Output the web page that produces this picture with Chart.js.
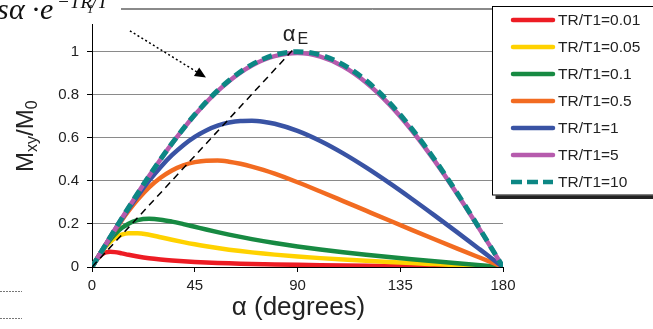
<!DOCTYPE html>
<html>
<head>
<meta charset="utf-8">
<script src="https://cdn.jsdelivr.net/npm/chart.js@4.4.1/dist/chart.umd.min.js"></script>
<style>
  html, body { margin: 0; padding: 0; background: #fff; }
  #wrap { width: 653px; height: 329px; position: relative; }
</style>
</head>
<body>
<div id="wrap"><canvas id="ernst" width="653" height="329"></canvas></div>
<script>
// flip angle (degrees) and Mxy/M0
const alphaDeg = [0, 2, 4, 6, 8, 10, 13, 16, 20, 25, 30, 35, 40, 45, 50, 55, 60, 65, 70, 75, 80, 90, 100, 110, 120, 130, 140, 150, 160, 170, 180];

const trT1_001 = [0, 0.0329, 0.0562, 0.0676, 0.0707, 0.0691, 0.0634, 0.0568, 0.0489, 0.0409, 0.0349, 0.0302, 0.0265, 0.0235, 0.0210, 0.0189, 0.0171, 0.0155, 0.0141, 0.0129, 0.0118, 0.0100, 0.0084, 0.0070, 0.0058, 0.0047, 0.0036, 0.0027, 0.0018, 0.0009, 0];
const trT1_005 = [0, 0.0345, 0.0666, 0.0944, 0.1170, 0.1339, 0.1500, 0.1570, 0.1571, 0.1495, 0.1384, 0.1267, 0.1155, 0.1053, 0.0962, 0.0879, 0.0805, 0.0739, 0.0679, 0.0625, 0.0575, 0.0488, 0.0412, 0.0346, 0.0286, 0.0232, 0.0181, 0.0134, 0.0088, 0.0044, 0];
const trT1_01 = [0, 0.0347, 0.0682, 0.0993, 0.1274, 0.1517, 0.1809, 0.2014, 0.2174, 0.2235, 0.2199, 0.2109, 0.1993, 0.1868, 0.1742, 0.1621, 0.1505, 0.1397, 0.1295, 0.1200, 0.1112, 0.0952, 0.0810, 0.0683, 0.0567, 0.0461, 0.0361, 0.0267, 0.0176, 0.0087, 0];
const trT1_05 = [0, 0.0349, 0.0695, 0.1036, 0.1371, 0.1696, 0.2165, 0.2601, 0.3129, 0.3693, 0.4144, 0.4486, 0.4724, 0.4872, 0.4940, 0.4943, 0.4891, 0.4795, 0.4665, 0.4508, 0.4331, 0.3935, 0.3506, 0.3062, 0.2615, 0.2169, 0.1727, 0.1290, 0.0857, 0.0428, 0];
const trT1_1 = [0, 0.0349, 0.0697, 0.1042, 0.1384, 0.1721, 0.2217, 0.2695, 0.3304, 0.4007, 0.4638, 0.5190, 0.5658, 0.6041, 0.6342, 0.6563, 0.6708, 0.6784, 0.6795, 0.6748, 0.6650, 0.6321, 0.5851, 0.5276, 0.4624, 0.3916, 0.3170, 0.2397, 0.1607, 0.0806, 0];
const trT1_5 = [0, 0.0349, 0.0698, 0.1045, 0.1392, 0.1736, 0.2250, 0.2755, 0.3418, 0.4223, 0.4995, 0.5729, 0.6418, 0.7057, 0.7642, 0.8168, 0.8631, 0.9028, 0.9355, 0.9611, 0.9793, 0.9933, 0.9770, 0.9312, 0.8573, 0.7576, 0.6352, 0.4938, 0.3376, 0.1713, 0];
const trT1_10 = [0, 0.0349, 0.0698, 0.1045, 0.1392, 0.1736, 0.2250, 0.2756, 0.3420, 0.4226, 0.5000, 0.5736, 0.6428, 0.7071, 0.7660, 0.8192, 0.8660, 0.9063, 0.9397, 0.9659, 0.9848, 1.0000, 0.9848, 0.9397, 0.8660, 0.7660, 0.6428, 0.5000, 0.3420, 0.1736, 0];

const seriesLabels = ['TR/T1=0.01', 'TR/T1=0.05', 'TR/T1=0.1', 'TR/T1=0.5', 'TR/T1=1', 'TR/T1=5', 'TR/T1=10'];
const seriesValues = [trT1_001, trT1_005, trT1_01, trT1_05, trT1_1, trT1_5, trT1_10];

// dashed guide through the Ernst angle
const ernstAlpha = [0, 89];
const ernstValue = [0, 1.02];

const xTicks = [0, 45, 90, 135, 180];
const yTicks = [0, 0.2, 0.4, 0.6, 0.8, 1, 1.2];

const colors = ['#ED1C24', '#FFD200', '#178A42', '#F26B21', '#3953A4', '#B65BAD', '#0C8784'];
const FONT = "'Liberation Sans', Arial, sans-serif";
const TXT = '#222';
const GRID = '#8a8a8a';

const toPoints = (xs, ys) => xs.map((x, i) => ({ x: x, y: ys[i] }));

const datasets = seriesValues.map((vals, i) => ({
    label: seriesLabels[i],
    data: toPoints(alphaDeg, vals),
    borderColor: colors[i],
    borderWidth: i === 6 ? 5 : 4.5,
    borderDash: i === 6 ? [10, 6] : [],
    cubicInterpolationMode: 'monotone',
    pointRadius: 0,
    fill: false,
    order: 7 - i
}));

datasets.push({
    label: 'ernst',
    data: toPoints(ernstAlpha, ernstValue),
    borderColor: '#000',
    borderWidth: 1.5,
    borderDash: [7, 5],
    pointRadius: 0,
    fill: false,
    order: 0
});

// extra drawing: titles, annotations, legend, cropped formula
const decor = {
    id: 'decor',
    beforeDatasetsDraw(chart) {
        // top grid line (1.2) runs on across the page
        const c = chart.ctx;
        const yTop = Math.round(chart.scales.y.getPixelForValue(1.2)) + 0.5;
        c.save();
        c.strokeStyle = GRID;
        c.lineWidth = 1;
        c.beginPath();
        c.moveTo(chart.chartArea.left, yTop);
        c.lineTo(chart.width, yTop);
        c.stroke();
        c.restore();
    },
    afterDatasetsDraw(chart) {
        const c = chart.ctx;
        const xs = chart.scales.x, ys = chart.scales.y;

        // dotted arrow
        const x0 = xs.getPixelForValue(16.6), y0 = ys.getPixelForValue(1.097);
        const x1 = xs.getPixelForValue(49.9), y1 = ys.getPixelForValue(0.88);
        const ang = Math.atan2(y1 - y0, x1 - x0);
        c.save();
        c.strokeStyle = '#000';
        c.lineWidth = 1.5;
        c.setLineDash([2, 2.5]);
        c.beginPath();
        c.moveTo(x0, y0);
        c.lineTo(x1 - 9 * Math.cos(ang), y1 - 9 * Math.sin(ang));
        c.stroke();
        c.setLineDash([]);
        c.fillStyle = '#000';
        c.beginPath();
        c.moveTo(x1, y1);
        c.lineTo(x1 - 11 * Math.cos(ang) + 5 * Math.sin(ang), y1 - 11 * Math.sin(ang) - 5 * Math.cos(ang));
        c.lineTo(x1 - 11 * Math.cos(ang) - 5 * Math.sin(ang), y1 - 11 * Math.sin(ang) + 5 * Math.cos(ang));
        c.closePath();
        c.fill();

        // alpha_E label
        const ax = xs.getPixelForValue(83.5), ay = ys.getPixelForValue(1.05);
        c.fillStyle = TXT;
        c.textBaseline = 'alphabetic';
        c.textAlign = 'left';
        c.font = '22px ' + FONT;
        c.fillText('α', ax, ay);
        const aw = c.measureText('α').width;
        c.font = '16px ' + FONT;
        c.fillText('E', ax + aw + 2, ay + 3);
        c.restore();
    },
    afterDraw(chart) {
        const c = chart.ctx;
        const area = chart.chartArea;
        c.save();

        // x title
        c.fillStyle = TXT;
        c.font = '26px ' + FONT;
        c.textAlign = 'center';
        c.textBaseline = 'alphabetic';
        c.fillText('α (degrees)', (area.left + area.right) / 2 + 1, 315);

        // y title with subscripts, rotated
        c.save();
        c.translate(33, 172);
        c.rotate(-Math.PI / 2);
        c.textAlign = 'left';
        let px = 0;
        c.font = '24px ' + FONT;
        c.fillText('M', px, 0); px += c.measureText('M').width;
        c.font = '16px ' + FONT;
        c.fillText('xy', px, 4); px += c.measureText('xy').width;
        c.font = '24px ' + FONT;
        c.fillText('/M', px, 0); px += c.measureText('/M').width;
        c.font = '16px ' + FONT;
        c.fillText('0', px, 4);
        c.restore();

        // cropped formula box at top left
        c.fillStyle = '#fff';
        c.fillRect(0, 0, 121, 24);
        c.fillStyle = '#111';
        c.textAlign = 'left';
        c.font = "italic 30px 'Liberation Serif', 'DejaVu Serif', serif";
        c.fillText('s', -3, 19);
        c.fillText('α', 9, 19);
        c.font = "30px 'Liberation Serif', serif";
        c.fillText('·', 31, 19);
        c.font = "italic 30px 'Liberation Serif', serif";
        c.fillText('e', 40, 19);
        c.font = "italic 19px 'Liberation Serif', serif";
        c.fillText('−TR/T', 57, 8);
        c.font = "italic 13px 'Liberation Serif', serif";
        c.fillText('1', 87, 13);

        // stray dotted rules at bottom left
        c.strokeStyle = '#777';
        c.lineWidth = 1;
        c.setLineDash([2, 1]);
        [291.5, 318.5].forEach(yy => {
            c.beginPath();
            c.moveTo(0, yy);
            c.lineTo(22, yy);
            c.stroke();
        });
        c.setLineDash([]);

        // legend box with shadow
        const lx = 492.5, ly = 6.5, lw = 175, lh = 188.5;
        c.fillStyle = '#222';
        c.fillRect(lx + 3, ly + lh + 0.5, lw, 3.5);
        c.fillStyle = '#fff';
        c.fillRect(lx, ly, lw, lh);
        c.strokeStyle = '#000';
        c.lineWidth = 1;
        c.strokeRect(lx, ly, lw, lh);

        c.font = '15.5px ' + FONT;
        c.textBaseline = 'middle';
        chart.data.datasets.slice(0, seriesLabels.length).forEach((ds, i) => {
            const yy = 20 + 27 * i;
            c.strokeStyle = ds.borderColor;
            c.lineWidth = 4.5;
            c.lineCap = i === 6 ? 'butt' : 'round';
            c.setLineDash(i === 6 ? [11, 5] : []);
            c.beginPath();
            c.moveTo(i === 6 ? 511 : 513, yy);
            c.lineTo(553, yy);
            c.stroke();
            c.setLineDash([]);
            c.fillStyle = TXT;
            c.fillText(ds.label, 558, yy + 1);
        });
        c.restore();
    }
};

const fmt = v => String(Number(v.toFixed(1)));
// the 1.2 label sits under the formula box; keep it tiny so it adds no padding
const yTickFont = ctx => ({ family: FONT, size: ctx.tick && ctx.tick.value > 1.1 ? 1 : 15 });

new Chart(document.getElementById('ernst'), {
    type: 'line',
    data: { datasets: datasets },
    options: {
        responsive: false,
        animation: false,
        layout: { padding: { left: 0, right: 150, top: 6, bottom: 0 } },
        plugins: {
            legend: { display: false },
            tooltip: { enabled: false }
        },
        scales: {
            x: {
                type: 'linear',
                min: 0,
                max: 180,
                afterBuildTicks: s => { s.ticks = xTicks.map(v => ({ value: v })); },
                ticks: {
                    color: TXT,
                    font: { family: FONT, size: 15 },
                    padding: 5,
                    maxRotation: 0
                },
                grid: { drawOnChartArea: false, tickLength: 5, tickColor: '#000' },
                border: { color: '#000', width: 1 },
                afterFit: s => { s.height = 62; }
            },
            y: {
                min: 0,
                max: 1.2,
                afterBuildTicks: s => { s.ticks = yTicks.map(v => ({ value: v })); },
                ticks: {
                    color: TXT,
                    font: yTickFont,
                    padding: 8,
                    callback: v => (v > 1.1 ? ' ' : fmt(v))
                },
                grid: {
                    color: ctx => (ctx.tick && ctx.tick.value === 0 ? 'rgba(0,0,0,0)' : GRID),
                    tickColor: '#000',
                    tickLength: 5
                },
                border: { color: '#000', width: 1 },
                afterFit: s => { s.width = 92; }
            }
        }
    },
    plugins: [decor]
});
</script>
</body>
</html>
